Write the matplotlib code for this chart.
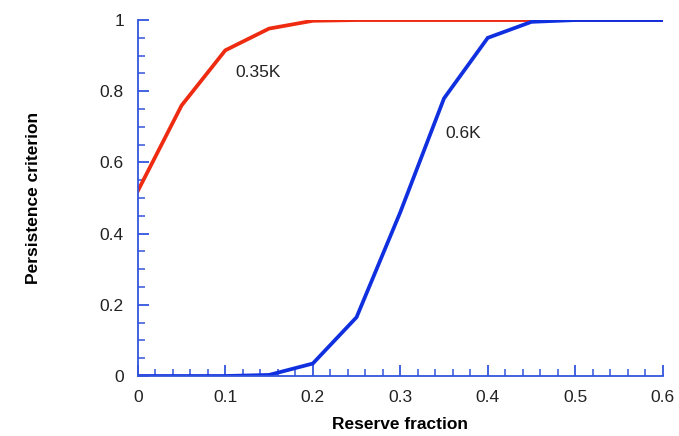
import matplotlib
matplotlib.use("Agg")
import matplotlib.pyplot as plt
from matplotlib.ticker import MultipleLocator

plt.rcParams['font.family'] = ['Liberation Sans', 'DejaVu Sans']

reserve = [0.0, 0.05, 0.1, 0.15, 0.2, 0.25, 0.3, 0.35, 0.4, 0.45, 0.5, 0.55, 0.6]
k035 = [0.52, 0.76, 0.915, 0.976, 0.998, 1.0, 1.0, 1.0, 1.0, 1.0, 1.0, 1.0, 1.0]
k06 = [0.0, 0.0, 0.0, 0.003, 0.035, 0.165, 0.46, 0.78, 0.95, 0.995, 1.0, 1.0, 1.0]

xticks = [0.0, 0.1, 0.2, 0.3, 0.4, 0.5, 0.6]
xlabels = ['0', '0.1', '0.2', '0.3', '0.4', '0.5', '0.6']
yticks = [0.0, 0.2, 0.4, 0.6, 0.8, 1.0]
ylabels = ['0', '0.2', '0.4', '0.6', '0.8', '1']

fig = plt.figure(figsize=(6.79, 4.36), dpi=100)
ax = fig.add_axes([0.203, 0.1376, 0.773, 0.8164])

ax.plot(reserve, k035, color='#ee2a10', lw=2.7, solid_joinstyle='miter')
ax.plot(reserve, k06, color='#1030e0', lw=2.7, solid_joinstyle='miter')

ax.text(0.112, 0.854, '0.35K', fontsize=12.5, va='center', ha='left', color='#222222')
ax.text(0.351, 0.68, '0.6K', fontsize=12.5, va='center', ha='left', color='#222222')

ax.set_xlim(0, 0.6)
ax.set_ylim(0, 1)
ax.set_xticks(xticks, xlabels)
ax.set_yticks(yticks, ylabels)
ax.xaxis.set_minor_locator(MultipleLocator(0.02))
ax.yaxis.set_minor_locator(MultipleLocator(0.05))

for s in ['top', 'right']:
    ax.spines[s].set_visible(False)
for s in ['left', 'bottom']:
    ax.spines[s].set_color('#3355dd')
    ax.spines[s].set_linewidth(1.3)

ax.tick_params(which='major', direction='in', length=8, width=1.3, color='#3355dd',
               labelsize=12.5, pad=10, labelcolor='#222222')
ax.tick_params(which='minor', direction='in', length=5, width=1.1, color='#3355dd')

ax.set_xlabel('Reserve fraction', fontsize=12.5, fontweight='bold', labelpad=9)
ax.set_ylabel('Persistence criterion', fontsize=12.5, fontweight='bold', labelpad=42)

fig.savefig('out.png', dpi=100)
